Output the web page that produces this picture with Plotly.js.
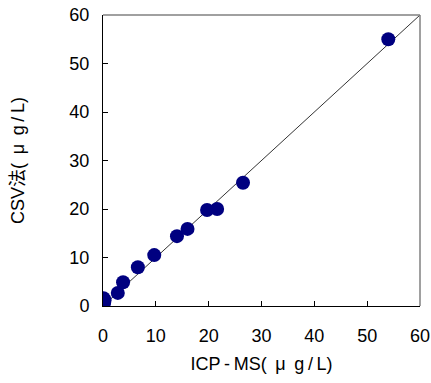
<!DOCTYPE html>
<html><head><meta charset="utf-8">
<script src="https://cdn.plot.ly/plotly-3.0.1.min.js"></script>
<style>body{margin:0;background:#fff}</style>
</head><body><div id="chart" style="width:431px;height:383px"></div>
<script>
var icpms = [0, 0.2, 0.3, 0.1, 2.8, 3.8, 6.6, 9.7, 14, 16, 19.7, 21.6, 26.5, 54];
var csv   = [0.2, 0.6, 1.2, 1.6, 2.7, 4.9, 8.0, 10.5, 14.4, 15.9, 19.8, 20.0, 25.4, 55];
var lineX = [0, 60];
var lineY = [0, 60];
var tickVals = [0, 10, 20, 30, 40, 50, 60];
var xTitle = "ICP\u2009-\u2009MS(\u2009 μ\u2009 g\u2009/\u2009L)";
var yTitle = "CSV法(\u2009 μ\u2009 g\u2009/\u2009L)";

var font = {family: "Liberation Sans, Arial, Noto Sans CJK SC, sans-serif", size: 18, color: "#000"};
var data = [
  {x: lineX, y: lineY, mode: "lines", line: {color: "#333", width: 1}, hoverinfo: "skip"},
  {x: icpms, y: csv, mode: "markers", marker: {color: "#000080", size: 14}}
];
var layout = {
  width: 431, height: 383, showlegend: false,
  margin: {l: 103, r: 11, t: 15, b: 77},
  paper_bgcolor: "#fff", plot_bgcolor: "#fff",
  font: font,
  xaxis: {range: [0, 60], tickvals: tickVals, ticks: "inside", ticklen: 5, tickcolor: "#000",
    showline: true, linecolor: "#000", linewidth: 1, showgrid: false, zeroline: false,
    ticklabelstandoff: 13, tickfont: font,
    title: {text: xTitle, font: font, standoff: 12}},
  yaxis: {range: [0, 60], tickvals: tickVals, ticks: "inside", ticklen: 5, tickcolor: "#000",
    showline: true, linecolor: "#000", linewidth: 1, showgrid: false, zeroline: false,
    ticklabelstandoff: 9, tickfont: font,
    title: {text: yTitle, font: font, standoff: 40}},
  shapes: [
    {type: "line", xref: "paper", yref: "paper", x0: 0, x1: 1, y0: 1, y1: 1, line: {color: "#808080", width: 1.5}},
    {type: "line", xref: "paper", yref: "paper", x0: 1, x1: 1, y0: 0, y1: 1, line: {color: "#808080", width: 1.5}}
  ]
};
Plotly.newPlot("chart", data, layout, {displayModeBar: false});
</script></body></html>
